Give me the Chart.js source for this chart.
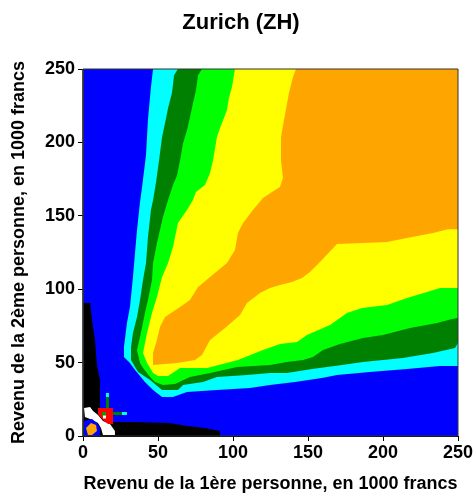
<!DOCTYPE html>
<html>
<head>
<meta charset="utf-8">
<title>Zurich (ZH)</title>
<script src="https://cdn.jsdelivr.net/npm/chart.js@4"></script>
<style>
  html, body { margin: 0; padding: 0; background: #fff; }
  canvas { display: block; }
</style>
</head>
<body>
<canvas id="chart" width="476" height="501"></canvas>
<script>
// axis
const tickValues = [0, 50, 100, 150, 200, 250];

// contour outlines, [income 1, income 2] in 1000 francs
const plotArea = [[0,0],[250,0],[250,250],[0,250]];
const cyanBand = [[46.7,250],[45.3,237.7],[43.3,215.2],[42,191.4],[39.3,168.9],[38,159.4],[36,140.3],[33.3,108.3],[31.3,87.9],[29.3,77],[27.3,60.6],[27.3,53.8],[31.3,49.7],[34.7,44.9],[41.3,36.8],[46.7,31.3],[52.7,26.6],[60,26.6],[69.3,30],[89.3,31.3],[111.3,32.7],[124.7,34.7],[141.3,36.8],[159.3,39.5],[169.3,41.5],[191.3,43.6],[216,45.6],[238,47.7],[250,47.7],[250,250]];
const darkGreenBand = [[63.3,250],[60.7,245.8],[59.3,233.6],[56.7,223.4],[54.7,213.2],[52.7,203.6],[50.7,187.9],[48.7,173],[46.7,160.7],[45.3,153.9],[43.3,135.5],[42,117.8],[40,106.2],[38,92.6],[36,81],[33.3,70.1],[32,60.6],[32,51.8],[34.7,47],[36.7,43.6],[44.7,38.1],[52.7,31.3],[63.3,31.3],[66.7,34.7],[80,36.8],[89.3,40.2],[109.3,41.5],[124.7,42.9],[136,42.9],[152.7,45.6],[172.7,48.3],[186.7,50.4],[213.3,53.1],[233.3,56.5],[248,59.9],[250,63.3],[250,250]];
const greenBand = [[79.3,250],[76.7,245.8],[75.3,235.6],[73.3,226.7],[71.3,217.2],[69.3,208.3],[66.7,199.5],[64.7,187.9],[62.7,177.7],[60,170.9],[56.7,160.7],[53.3,149.1],[51.3,140.3],[49.3,131.4],[46.7,117.8],[46,106.2],[43.3,92.6],[41.3,83.8],[38,67.4],[36,58.6],[38,49.7],[40,46.3],[44.7,40.2],[48,36.8],[53.3,34.7],[61.3,35.4],[71.3,40.2],[84.7,42.9],[102.7,47],[124.7,48.3],[136,50.4],[146.7,51.8],[153.3,53.8],[160,58.6],[171.3,62.7],[186.7,66.7],[200,68.8],[218,73.5],[236,77],[246,79.7],[250,80.4],[250,250]];
const yellowBand = [[101.3,250],[99.3,237.7],[97.3,230.2],[96,222],[91.3,209.7],[89.3,203.6],[86.7,187.9],[84.7,179.1],[81.3,170.9],[75.3,166.2],[73.3,160.7],[69.3,153.9],[63.3,145.1],[60,128.7],[56.7,117.8],[52.7,108.3],[49.3,94.7],[46,83.8],[42.7,70.1],[40,56.5],[42.7,49.7],[46.7,42.9],[50,40.8],[56.7,40.8],[64.7,46.3],[82.7,46.3],[103.3,51.8],[120,58.6],[131.3,62.7],[142.7,64],[149.3,68.8],[164.7,75.6],[176,83.8],[186,87.2],[202.7,89.2],[216,94],[229.3,98.1],[238,100.8],[250,100.8],[250,250]];
const orangeBand = [[142,250],[140,244.5],[137.3,233.6],[134,215.2],[132,203.6],[132,187.9],[133.3,175.7],[131.3,169.6],[126,166.2],[120,162.1],[113.3,153.9],[106.7,145.1],[103.3,138.2],[101.3,126.7],[96,117.8],[84.7,108.3],[76.7,101.5],[71.3,92.6],[64.7,87.8],[54.7,81],[51.3,74.2],[49.3,65.4],[46.7,56.5],[46.7,48.4],[62.7,49.7],[74.7,51.8],[79.3,55.2],[84.7,65.4],[94.7,73.5],[104.7,82.4],[109.3,90.6],[118,97.4],[124.7,100.8],[131.3,102.9],[139.3,104.9],[146,107.6],[151.3,111.7],[158,118.5],[169.3,130.8],[186.7,131.4],[202.7,132.1],[216,134.8],[233.3,138.2],[243.3,140.9],[250,140.9],[250,250]];

// the small patches near the origin
const blackPatch = [[0,90.6],[4.7,90.6],[6,79],[8,65.4],[9.3,48.4],[11.3,38.1],[11.3,19],[20,9.5],[33.3,9.5],[58,8.9],[69.3,6.8],[81.3,5.4],[91.3,3.4],[91.3,0],[0,0]];
const whitePatch = [[0.7,19.1],[4.7,19.8],[6.7,17.1],[10,14.3],[13.3,10.2],[18,8.2],[21.3,3.4],[21.3,0.7],[13.3,0.7],[12,5.4],[10,8.9],[4.7,11.6],[1.3,12.9]];
const bluePatch = [[0.7,10.2],[6,11.6],[9.3,8.9],[11.3,5.4],[11.3,0],[0.7,0]];
const orangePatch = [[2,5.4],[5.3,8.9],[8.7,7.5],[9.3,3.4],[6,0.7],[3.3,0.7]];
const redPatch = [[10,19.1],[20,19.1],[20,8.2],[16.7,8.2],[13.3,10.9],[10,15]];
const greenDot = [[12.7,16.3],[15.3,16.3],[15.3,14],[12.7,14]];
const whiteDot = [[13.3,14],[15.3,14],[15.3,12],[13.3,12]];
const crossUpDark = [[15.3,19.1],[17.3,19.1],[17.3,26.6],[15.3,26.6]];
const crossUpCyan = [[15.3,26.6],[17.3,26.6],[17.3,29.3],[15.3,29.3]];
const crossRightDark = [[20,16.3],[26,16.3],[26,14.3],[20,14.3]];
const crossRightCyan = [[26,16.3],[29.3,16.3],[29.3,14.3],[26,14.3]];

function shape(outline, colour) {
  return {
    data: outline.map(p => ({ x: p[0], y: p[1] })),
    showLine: true,
    fill: 'shape',
    backgroundColor: colour,
    borderWidth: 0,
    pointRadius: 0
  };
}

const boldFont = size => ({ family: '"Liberation Sans", Arial, sans-serif', size: size, weight: 'bold' });

// painted bottom first, chart.js draws the first dataset on top so the list gets reversed
const layers = [
  shape(plotArea, '#0000ff'),
  shape(cyanBand, '#00ffff'),
  shape(darkGreenBand, '#008000'),
  shape(greenBand, '#00ff00'),
  shape(yellowBand, '#ffff00'),
  shape(orangeBand, '#ffa500'),
  shape(blackPatch, '#000000'),
  shape(whitePatch, '#ffffff'),
  shape(bluePatch, '#0000ff'),
  shape(orangePatch, '#ffa500'),
  shape(redPatch, '#ff0000'),
  shape(greenDot, '#00a000'),
  shape(whiteDot, '#ffffff'),
  shape(crossUpDark, '#008000'),
  shape(crossUpCyan, '#00ffff'),
  shape(crossRightDark, '#008000'),
  shape(crossRightCyan, '#00ffff'),
  {
    // frame round the plot
    data: plotArea.concat([plotArea[0]]).map(p => ({ x: p[0], y: p[1] })),
    showLine: true,
    fill: false,
    borderColor: '#333333',
    borderWidth: 1,
    pointRadius: 0,
    clip: false
  }
];

new Chart(document.getElementById('chart'), {
  type: 'scatter',
  data: { datasets: layers.reverse() },
  options: {
    responsive: false,
    animation: false,
    layout: { padding: { left: 24, right: 18 } },
    plugins: {
      legend: { display: false },
      tooltip: { enabled: false },
      title: {
        display: true,
        text: 'Zurich (ZH)',
        color: '#000',
        font: boldFont(22),
        padding: { top: 10, bottom: 32.6 }
      }
    },
    scales: {
      x: {
        type: 'linear',
        min: 0,
        max: 250,
        afterBuildTicks: axis => { axis.ticks = tickValues.map(v => ({ value: v })); },
        afterFit: axis => { axis.height = 65; },
        grid: { drawOnChartArea: false, color: '#000', tickLength: 5 },
        border: { color: '#000' },
        ticks: { color: '#000', font: boldFont(18), maxRotation: 0, padding: 1 },
        title: {
          display: true,
          text: 'Revenu de la 1ère personne, en 1000 francs',
          color: '#000',
          font: boldFont(18),
          padding: { top: 0, bottom: 6 }
        }
      },
      y: {
        type: 'linear',
        min: 0,
        max: 250,
        afterBuildTicks: axis => { axis.ticks = tickValues.map(v => ({ value: v })); },
        afterFit: axis => { axis.width = 59; },
        grid: { drawOnChartArea: false, color: '#000', tickLength: 5 },
        border: { color: '#000' },
        ticks: { color: '#000', font: boldFont(18), padding: 3 },
        title: {
          display: true,
          text: 'Revenu de la 2ème personne, en 1000 francs',
          color: '#000',
          font: boldFont(18),
          padding: { top: -15.8, bottom: 0 }
        }
      }
    }
  }
});
</script>
</body>
</html>
